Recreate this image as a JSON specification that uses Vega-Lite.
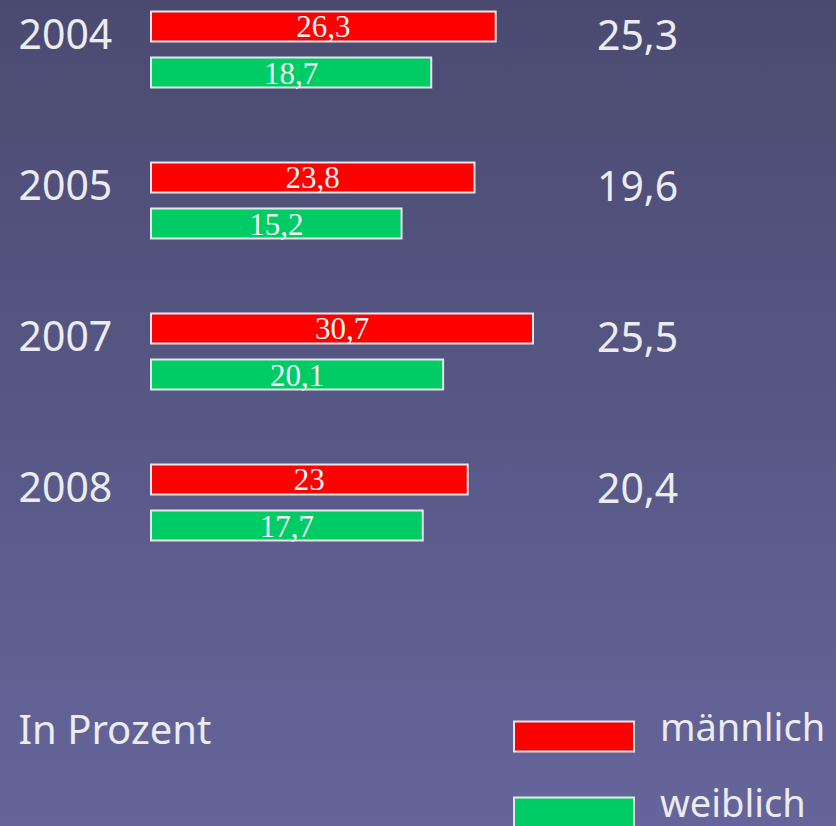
{
  "$schema": "https://vega.github.io/schema/vega-lite/v6.json",
  "width": 836,
  "height": 826,
  "autosize": {"type": "fit", "contains": "padding"},
  "padding": 0,
  "background": "#58588a",
  "config": {
    "view": {
      "stroke": null,
      "fill": {
        "gradient": "linear",
        "x1": 0, "y1": 0, "x2": 0, "y2": 1,
        "stops": [
          {"offset": 0, "color": "#4a4a71"},
          {"offset": 1, "color": "#65659b"}
        ]
      }
    },
    "locale": {
      "number": {"decimal": ",", "thousands": ".", "grouping": [3], "currency": ["", " €"]}
    },
    "font": "Noto Sans"
  },
  "datasets": {
    "bars": [
      {"year": "2004", "sex": "männlich", "value": 26.3},
      {"year": "2004", "sex": "weiblich", "value": 18.7},
      {"year": "2005", "sex": "männlich", "value": 23.8},
      {"year": "2005", "sex": "weiblich", "value": 15.2},
      {"year": "2007", "sex": "männlich", "value": 30.7},
      {"year": "2007", "sex": "weiblich", "value": 20.1},
      {"year": "2008", "sex": "männlich", "value": 23},
      {"year": "2008", "sex": "weiblich", "value": 17.7}
    ],
    "totals": [
      {"year": "2004", "total": 25.3},
      {"year": "2005", "total": 19.6},
      {"year": "2007", "total": 25.5},
      {"year": "2008", "total": 20.4}
    ]
  },
  "resolve": {"scale": {"x": "independent"}},
  "layer": [
    {
      "data": {"name": "bars"},
      "mark": {"type": "bar", "stroke": "#e6e6e6", "strokeWidth": 2, "opacity": 1},
      "encoding": {
        "y": {
          "field": "year", "type": "nominal",
          "scale": {"domain": ["2004", "2005", "2007", "2008"], "range": [-26, 578], "paddingInner": 0, "paddingOuter": 0},
          "axis": {
            "orient": "left", "domain": false, "ticks": false, "tickSize": 0, "grid": false,
            "labelPadding": -18, "labelAlign": "left", "labelBaseline": "alphabetic", "labelOffset": -1,
            "labelFont": "Noto Sans", "labelFontSize": 41, "labelColor": "#ebebf0",
            "title": "In Prozent", "titleX": 18, "titleY": 743, "titleAngle": 0,
            "titleAlign": "left", "titleBaseline": "alphabetic", "titleFont": "Noto Sans",
            "titleFontSize": 40, "titleFontWeight": "normal", "titleColor": "#ebebf0"
          }
        },
        "yOffset": {
          "field": "sex", "type": "nominal",
          "scale": {"domain": ["männlich", "weiblich"], "paddingInner": 0.348, "paddingOuter": 0.814}
        },
        "x": {
          "field": "value", "type": "quantitative",
          "scale": {"domain": [-14.35, 30.7], "range": [151, 533], "zero": false, "nice": false},
          "axis": null
        },
        "x2": {"datum": -14.35},
        "color": {
          "field": "sex", "type": "nominal",
          "scale": {"domain": ["männlich", "weiblich"], "range": ["#ff0000", "#00cc66"]},
          "legend": {
            "orient": "none", "legendX": 555, "legendY": 710.5, "direction": "vertical",
            "title": null, "padding": 0,
            "symbolType": "M-4,-0.533H4V1.467H-4Z", "symbolSize": 900,
            "symbolStrokeColor": "#e6e6e6", "symbolStrokeWidth": 2, "symbolOpacity": 1,
            "labelFont": "Noto Sans", "labelFontSize": 38, "labelColor": "#ebebf0",
            "labelOffset": 67, "labelLimit": 400, "rowPadding": 30
          }
        }
      }
    },
    {
      "data": {"name": "bars"},
      "mark": {"type": "text", "font": "Liberation Serif", "fontSize": 31, "color": "#f4f4f4", "align": "center", "baseline": "alphabetic", "dy": 11},
      "encoding": {
        "y": {"field": "year", "type": "nominal"},
        "yOffset": {"field": "sex", "type": "nominal"},
        "x": {
          "field": "value", "type": "quantitative",
          "scale": {"domain": [-14.35, 30.7], "range": [151, 342], "zero": false, "nice": false},
          "axis": null
        },
        "text": {"field": "value", "type": "quantitative", "format": "~g"}
      }
    },
    {
      "data": {"name": "totals"},
      "mark": {"type": "text", "font": "Noto Sans", "fontSize": 41, "color": "#ebebf0", "align": "left", "baseline": "alphabetic"},
      "encoding": {
        "y": {"field": "year", "type": "nominal"},
        "x": {
          "datum": 38.24, "type": "quantitative",
          "scale": {"domain": [-14.35, 30.7], "range": [151, 533], "zero": false, "nice": false},
          "axis": null
        },
        "text": {"field": "total", "type": "quantitative", "format": "~g"}
      }
    }
  ]
}
